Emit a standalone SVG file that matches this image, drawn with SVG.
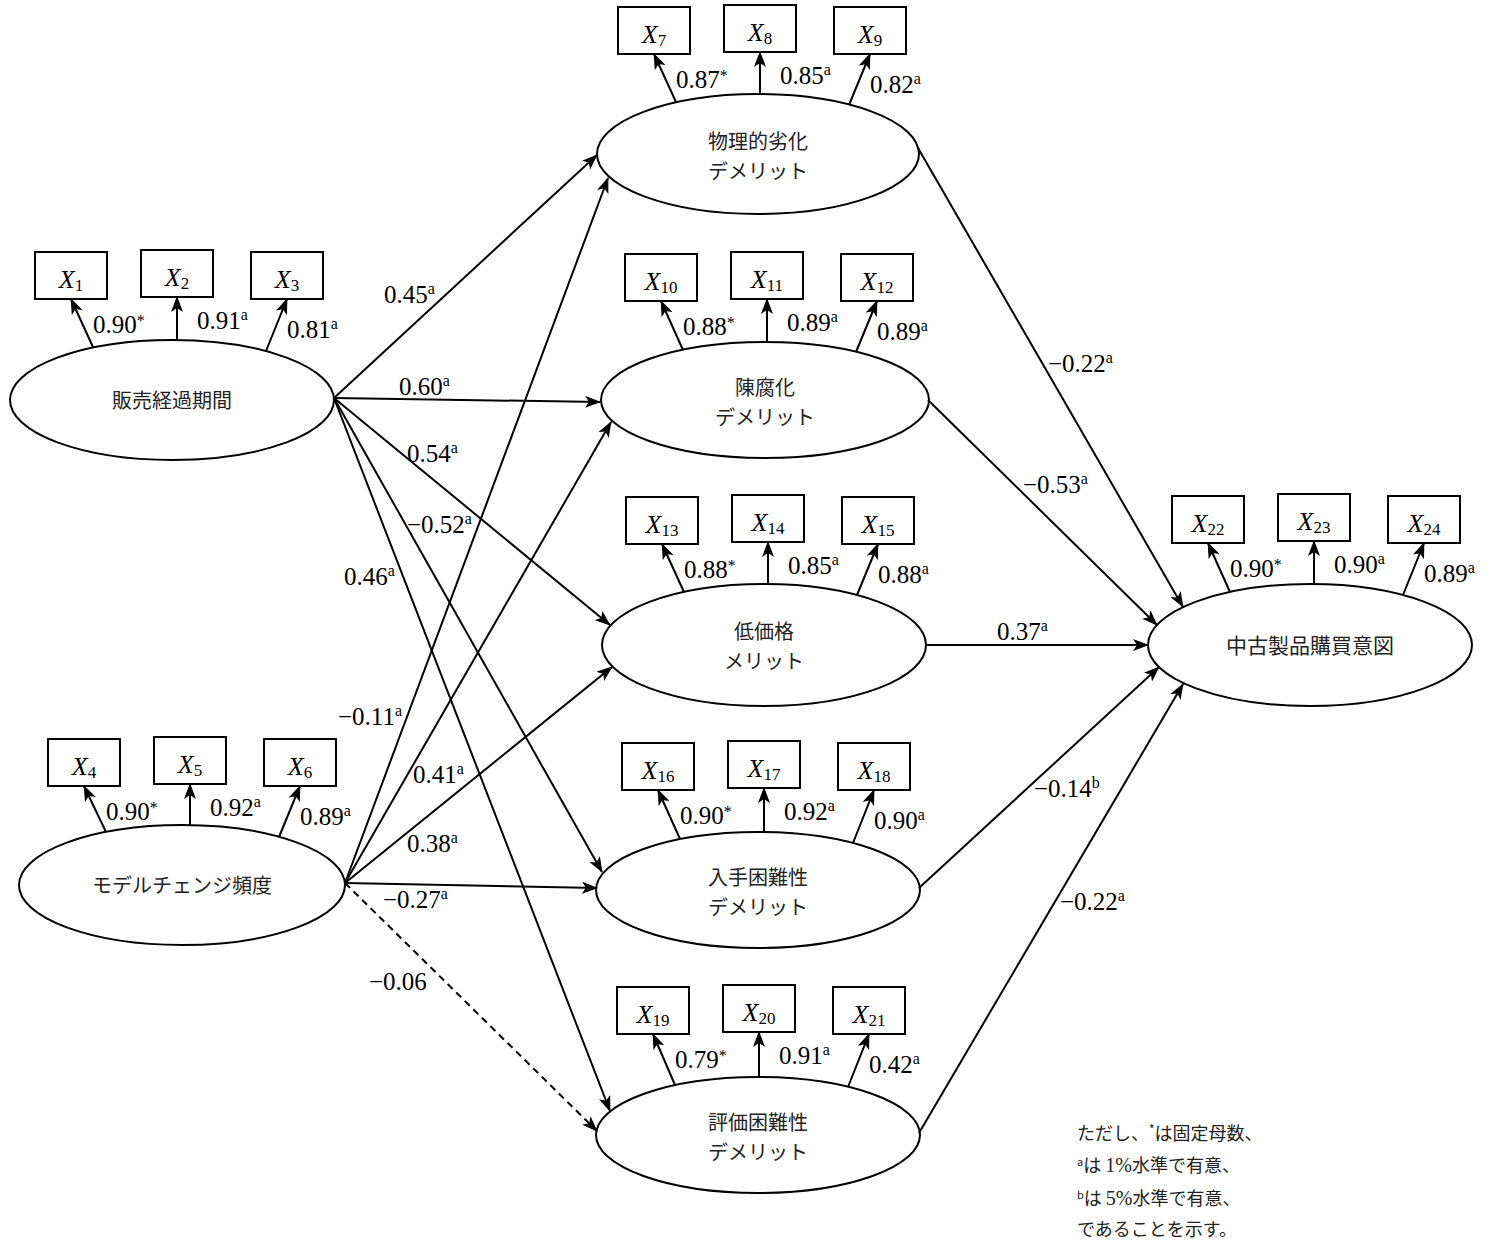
<svg xmlns="http://www.w3.org/2000/svg" width="1498" height="1242" viewBox="0 0 1498 1242">
<style>
.ell{fill:#fff;stroke:#000;stroke-width:2}
.box{fill:#fff;stroke:#000;stroke-width:2}
.ln{stroke:#000;stroke-width:2;fill:none;marker-end:url(#ah)}
.dash{stroke-dasharray:7,5}
.jp{font-family:"Noto Sans CJK JP","Noto Sans",sans-serif;font-size:20px;fill:#222;text-anchor:middle}
.num{font-family:"Liberation Serif",serif;font-size:25px;fill:#000}
.var{font-family:"Liberation Serif",serif;font-style:italic;font-size:26px;fill:#000;text-anchor:middle}
.sub{font-style:normal;font-size:17px}
.sup{font-size:16px}
.note{font-family:"Noto Sans CJK JP",sans-serif;font-size:18px;fill:#222}
.ser{font-family:"Liberation Serif",serif;font-size:20px}
</style>
<defs>
<marker id="ah" viewBox="0 0 16 12" refX="15" refY="6" markerWidth="16" markerHeight="12" markerUnits="userSpaceOnUse" orient="auto">
<path d="M0,0 L16,6 L0,12 L4,6 Z" fill="#000"/>
</marker>
</defs>
<rect width="1498" height="1242" fill="#fff"/>

<!-- 販売経過期間 -->
<g id="n-hanbai">
<ellipse class="ell" cx="172" cy="400" rx="162" ry="60"/>
<text class="jp" x="172" y="408">販売経過期間</text>
<rect class="box" x="35" y="252" width="72" height="47"/><text class="var" x="71" y="288">X<tspan class="sub" dy="3">1</tspan></text>
<rect class="box" x="141" y="250" width="72" height="47"/><text class="var" x="177" y="286">X<tspan class="sub" dy="3">2</tspan></text>
<rect class="box" x="251" y="252" width="72" height="47"/><text class="var" x="287" y="288">X<tspan class="sub" dy="3">3</tspan></text>
<line class="ln" x1="93" y1="347" x2="71" y2="299"/>
<line class="ln" x1="177" y1="340" x2="177" y2="297"/>
<line class="ln" x1="266" y1="351" x2="287" y2="299"/>
<text class="num" x="93" y="333">0.90<tspan class="sup" dy="-7">*</tspan></text>
<text class="num" x="197" y="329">0.91<tspan class="sup" dy="-9">a</tspan></text>
<text class="num" x="287" y="338">0.81<tspan class="sup" dy="-9">a</tspan></text>
</g>

<!-- モデルチェンジ頻度 -->
<g id="n-model">
<ellipse class="ell" cx="182" cy="885" rx="163" ry="60"/>
<text class="jp" x="182" y="893">モデルチェンジ頻度</text>
<rect class="box" x="48" y="739" width="72" height="47"/><text class="var" x="84" y="775">X<tspan class="sub" dy="3">4</tspan></text>
<rect class="box" x="154" y="737" width="72" height="47"/><text class="var" x="190" y="773">X<tspan class="sub" dy="3">5</tspan></text>
<rect class="box" x="264" y="739" width="72" height="47"/><text class="var" x="300" y="775">X<tspan class="sub" dy="3">6</tspan></text>
<line class="ln" x1="106" y1="832" x2="84" y2="786"/>
<line class="ln" x1="190" y1="825" x2="190" y2="784"/>
<line class="ln" x1="279" y1="837" x2="300" y2="786"/>
<text class="num" x="106" y="820">0.90<tspan class="sup" dy="-7">*</tspan></text>
<text class="num" x="210" y="816">0.92<tspan class="sup" dy="-9">a</tspan></text>
<text class="num" x="300" y="825">0.89<tspan class="sup" dy="-9">a</tspan></text>
</g>

<!-- 物理的劣化デメリット -->
<g id="n-butsuri">
<ellipse class="ell" cx="758" cy="154" rx="161" ry="60"/>
<text class="jp" x="758" y="149">物理的劣化</text>
<text class="jp" x="758" y="179">デメリット</text>
<rect class="box" x="618" y="7" width="72" height="47"/><text class="var" x="654" y="43">X<tspan class="sub" dy="3">7</tspan></text>
<rect class="box" x="724" y="5" width="72" height="47"/><text class="var" x="760" y="41">X<tspan class="sub" dy="3">8</tspan></text>
<rect class="box" x="834" y="7" width="72" height="47"/><text class="var" x="870" y="43">X<tspan class="sub" dy="3">9</tspan></text>
<line class="ln" x1="676" y1="102" x2="654" y2="54"/>
<line class="ln" x1="760" y1="94" x2="760" y2="52"/>
<line class="ln" x1="849" y1="105" x2="870" y2="54"/>
<text class="num" x="676" y="88">0.87<tspan class="sup" dy="-7">*</tspan></text>
<text class="num" x="780" y="84">0.85<tspan class="sup" dy="-9">a</tspan></text>
<text class="num" x="870" y="93">0.82<tspan class="sup" dy="-9">a</tspan></text>
</g>

<!-- 陳腐化デメリット -->
<g id="n-chinpu">
<ellipse class="ell" cx="765" cy="400" rx="164" ry="58"/>
<text class="jp" x="765" y="395">陳腐化</text>
<text class="jp" x="765" y="425">デメリット</text>
<rect class="box" x="625" y="254" width="72" height="47"/><text class="var" x="661" y="290">X<tspan class="sub" dy="3">10</tspan></text>
<rect class="box" x="731" y="252" width="72" height="47"/><text class="var" x="767" y="288">X<tspan class="sub" dy="3">11</tspan></text>
<rect class="box" x="841" y="254" width="72" height="47"/><text class="var" x="877" y="290">X<tspan class="sub" dy="3">12</tspan></text>
<line class="ln" x1="683" y1="350" x2="661" y2="301"/>
<line class="ln" x1="767" y1="342" x2="767" y2="299"/>
<line class="ln" x1="856" y1="352" x2="877" y2="301"/>
<text class="num" x="683" y="335">0.88<tspan class="sup" dy="-7">*</tspan></text>
<text class="num" x="787" y="331">0.89<tspan class="sup" dy="-9">a</tspan></text>
<text class="num" x="877" y="340">0.89<tspan class="sup" dy="-9">a</tspan></text>
</g>

<!-- 低価格メリット -->
<g id="n-teikakaku">
<ellipse class="ell" cx="764" cy="645" rx="162" ry="61"/>
<text class="jp" x="764" y="639">低価格</text>
<text class="jp" x="764" y="669">メリット</text>
<rect class="box" x="626" y="497" width="72" height="47"/><text class="var" x="662" y="533">X<tspan class="sub" dy="3">13</tspan></text>
<rect class="box" x="732" y="495" width="72" height="47"/><text class="var" x="768" y="531">X<tspan class="sub" dy="3">14</tspan></text>
<rect class="box" x="842" y="497" width="72" height="47"/><text class="var" x="878" y="533">X<tspan class="sub" dy="3">15</tspan></text>
<line class="ln" x1="684" y1="592" x2="662" y2="544"/>
<line class="ln" x1="768" y1="584" x2="768" y2="542"/>
<line class="ln" x1="857" y1="595" x2="878" y2="544"/>
<text class="num" x="684" y="578">0.88<tspan class="sup" dy="-7">*</tspan></text>
<text class="num" x="788" y="574">0.85<tspan class="sup" dy="-9">a</tspan></text>
<text class="num" x="878" y="583">0.88<tspan class="sup" dy="-9">a</tspan></text>
</g>

<!-- 入手困難性デメリット -->
<g id="n-nyushu">
<ellipse class="ell" cx="758" cy="890" rx="162" ry="58"/>
<text class="jp" x="758" y="885">入手困難性</text>
<text class="jp" x="758" y="915">デメリット</text>
<rect class="box" x="622" y="743" width="72" height="47"/><text class="var" x="658" y="779">X<tspan class="sub" dy="3">16</tspan></text>
<rect class="box" x="728" y="741" width="72" height="47"/><text class="var" x="764" y="777">X<tspan class="sub" dy="3">17</tspan></text>
<rect class="box" x="838" y="743" width="72" height="47"/><text class="var" x="874" y="779">X<tspan class="sub" dy="3">18</tspan></text>
<line class="ln" x1="680" y1="839" x2="658" y2="790"/>
<line class="ln" x1="764" y1="832" x2="764" y2="788"/>
<line class="ln" x1="853" y1="843" x2="874" y2="790"/>
<text class="num" x="680" y="824">0.90<tspan class="sup" dy="-7">*</tspan></text>
<text class="num" x="784" y="820">0.92<tspan class="sup" dy="-9">a</tspan></text>
<text class="num" x="874" y="829">0.90<tspan class="sup" dy="-9">a</tspan></text>
</g>

<!-- 評価困難性デメリット -->
<g id="n-hyoka">
<ellipse class="ell" cx="758" cy="1135" rx="162" ry="58"/>
<text class="jp" x="758" y="1130">評価困難性</text>
<text class="jp" x="758" y="1160">デメリット</text>
<rect class="box" x="617" y="987" width="72" height="47"/><text class="var" x="653" y="1023">X<tspan class="sub" dy="3">19</tspan></text>
<rect class="box" x="723" y="985" width="72" height="47"/><text class="var" x="759" y="1021">X<tspan class="sub" dy="3">20</tspan></text>
<rect class="box" x="833" y="987" width="72" height="47"/><text class="var" x="869" y="1023">X<tspan class="sub" dy="3">21</tspan></text>
<line class="ln" x1="675" y1="1085" x2="653" y2="1034"/>
<line class="ln" x1="759" y1="1077" x2="759" y2="1032"/>
<line class="ln" x1="848" y1="1087" x2="869" y2="1034"/>
<text class="num" x="675" y="1068">0.79<tspan class="sup" dy="-7">*</tspan></text>
<text class="num" x="779" y="1064">0.91<tspan class="sup" dy="-9">a</tspan></text>
<text class="num" x="869" y="1073">0.42<tspan class="sup" dy="-9">a</tspan></text>
</g>

<!-- 中古製品購買意図 -->
<g id="n-koubai">
<ellipse class="ell" cx="1310" cy="645" rx="162" ry="61"/>
<text class="jp" x="1310" y="653" style="font-size:21px">中古製品購買意図</text>
<rect class="box" x="1172" y="496" width="72" height="47"/><text class="var" x="1208" y="532">X<tspan class="sub" dy="3">22</tspan></text>
<rect class="box" x="1278" y="494" width="72" height="47"/><text class="var" x="1314" y="530">X<tspan class="sub" dy="3">23</tspan></text>
<rect class="box" x="1388" y="496" width="72" height="47"/><text class="var" x="1424" y="532">X<tspan class="sub" dy="3">24</tspan></text>
<line class="ln" x1="1230" y1="592" x2="1208" y2="543"/>
<line class="ln" x1="1314" y1="584" x2="1314" y2="541"/>
<line class="ln" x1="1403" y1="595" x2="1424" y2="543"/>
<text class="num" x="1230" y="577">0.90<tspan class="sup" dy="-7">*</tspan></text>
<text class="num" x="1334" y="573">0.90<tspan class="sup" dy="-9">a</tspan></text>
<text class="num" x="1424" y="582">0.89<tspan class="sup" dy="-9">a</tspan></text>
</g>

<!-- structural paths -->
<g id="connectors">
<line class="ln" x1="334" y1="398" x2="597" y2="155"/>
<line class="ln" x1="334" y1="398" x2="600" y2="402"/>
<line class="ln" x1="334" y1="398" x2="610" y2="625"/>
<line class="ln" x1="334" y1="398" x2="602" y2="872"/>
<line class="ln" x1="334" y1="398" x2="610" y2="1111"/>
<line class="ln" x1="345" y1="883" x2="608" y2="178"/>
<line class="ln" x1="345" y1="883" x2="611" y2="422"/>
<line class="ln" x1="345" y1="883" x2="612" y2="667"/>
<line class="ln" x1="345" y1="883" x2="597" y2="888"/>
<line class="ln dash" x1="345" y1="883" x2="597" y2="1131"/>
<line class="ln" x1="918" y1="148" x2="1183" y2="607"/>
<line class="ln" x1="928" y1="400" x2="1157" y2="625"/>
<line class="ln" x1="926" y1="645" x2="1148" y2="645"/>
<line class="ln" x1="919" y1="888" x2="1159" y2="667"/>
<line class="ln" x1="919" y1="1133" x2="1183" y2="684"/>
</g>

<g id="path-labels">
<text class="num" x="384" y="303">0.45<tspan class="sup" dy="-9">a</tspan></text>
<text class="num" x="399" y="395">0.60<tspan class="sup" dy="-9">a</tspan></text>
<text class="num" x="407" y="462">0.54<tspan class="sup" dy="-9">a</tspan></text>
<text class="num" x="407" y="533">−0.52<tspan class="sup" dy="-9">a</tspan></text>
<text class="num" x="344" y="585">0.46<tspan class="sup" dy="-9">a</tspan></text>
<text class="num" x="338" y="725">−0.11<tspan class="sup" dy="-9">a</tspan></text>
<text class="num" x="413" y="783">0.41<tspan class="sup" dy="-9">a</tspan></text>
<text class="num" x="407" y="852">0.38<tspan class="sup" dy="-9">a</tspan></text>
<text class="num" x="383" y="908">−0.27<tspan class="sup" dy="-9">a</tspan></text>
<text class="num" x="369" y="990">−0.06</text>
<text class="num" x="1048" y="372">−0.22<tspan class="sup" dy="-9">a</tspan></text>
<text class="num" x="1023" y="493">−0.53<tspan class="sup" dy="-9">a</tspan></text>
<text class="num" x="997" y="640">0.37<tspan class="sup" dy="-9">a</tspan></text>
<text class="num" x="1034" y="797">−0.14<tspan class="sup" dy="-9">b</tspan></text>
<text class="num" x="1060" y="910">−0.22<tspan class="sup" dy="-9">a</tspan></text>
</g>

<g id="note">
<text class="note" x="1077" y="1140">ただし、<tspan style="font-size:12px" dy="-6">*</tspan><tspan dy="6">は固定母数、</tspan></text>
<text class="note" x="1077" y="1172"><tspan style="font-size:11px" dy="-6">a</tspan><tspan dy="6">は </tspan><tspan class="ser">1%</tspan>水準で有意、</text>
<text class="note" x="1077" y="1205"><tspan style="font-size:11px" dy="-6">b</tspan><tspan dy="6">は </tspan><tspan class="ser">5%</tspan>水準で有意、</text>
<text class="note" x="1077" y="1236">であることを示す。</text>
</g>
</svg>
